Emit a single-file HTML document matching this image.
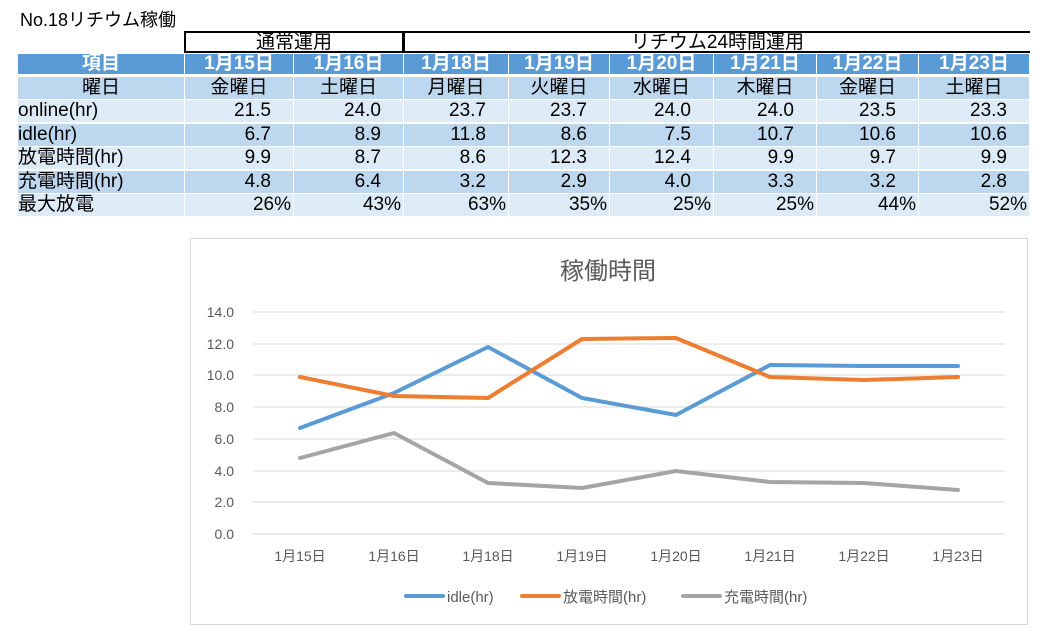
<!DOCTYPE html>
<html><head><meta charset="utf-8"><style>
body{margin:0;width:1050px;height:637px;background:#fff;font-family:"Liberation Sans","Noto Sans CJK JP",sans-serif;position:relative;overflow:hidden}
.a{position:absolute;white-space:nowrap}
.c{position:absolute;box-sizing:border-box;font-size:19px;line-height:22px;height:22px;overflow:hidden}
</style></head><body>
<div class="a" style="left:20px;top:6px;font-size:18px">No.18リチウム稼働</div>
<div class="a" style="left:184px;top:31px;width:220px;height:22px;border:2px solid #000;box-sizing:border-box;text-align:center;font-size:19px;line-height:19px">通常運用</div>
<div class="a" style="left:403px;top:31px;width:627px;height:22px;border-top:2px solid #000;border-left:2px solid #000;border-bottom:2px solid #000;box-sizing:border-box;text-align:center;font-size:19px;line-height:19px">リチウム24時間運用</div>
<div id="t"></div>
<svg class="a" style="left:0;top:0" width="1050" height="637">
<rect x="190.5" y="238.5" width="837" height="386" fill="#fff" stroke="#d9d9d9"/>
<text x="608" y="279" font-size="24" fill="#595959" text-anchor="middle" font-family="Liberation Sans,Noto Sans CJK JP,sans-serif">稼働時間</text>
<g stroke="#d9d9d9" stroke-width="1">
<line x1="253" x2="1005" y1="312" y2="312"/><line x1="253" x2="1005" y1="344" y2="344"/><line x1="253" x2="1005" y1="375" y2="375"/><line x1="253" x2="1005" y1="407" y2="407"/><line x1="253" x2="1005" y1="439" y2="439"/><line x1="253" x2="1005" y1="471" y2="471"/><line x1="253" x2="1005" y1="502" y2="502"/><line x1="253" x2="1005" y1="534" y2="534"/>
</g>
<g font-size="14" fill="#595959" text-anchor="end" font-family="Liberation Sans,sans-serif">
<text x="234" y="317">14.0</text><text x="234" y="349">12.0</text><text x="234" y="380">10.0</text><text x="234" y="412">8.0</text><text x="234" y="444">6.0</text><text x="234" y="476">4.0</text><text x="234" y="507">2.0</text><text x="234" y="539">0.0</text>
</g>
<g font-size="14" fill="#595959" text-anchor="middle" font-family="Liberation Sans,Noto Sans CJK JP,sans-serif">
<text x="300" y="561">1月15日</text><text x="394" y="561">1月16日</text><text x="488" y="561">1月18日</text><text x="582" y="561">1月19日</text><text x="676" y="561">1月20日</text><text x="770" y="561">1月21日</text><text x="864" y="561">1月22日</text><text x="958" y="561">1月23日</text>
</g>
<g fill="none" stroke-width="4" stroke-linejoin="round" stroke-linecap="round">
<polyline stroke="#5b9bd5" points="300,428 394,393 488,347 582,398 676,415 770,365 864,366 958,366"/>
<polyline stroke="#ed7d31" points="300,377 394,396 488,398 582,339 676,338 770,377 864,380 958,377"/>
<polyline stroke="#a5a5a5" points="300,458 394,433 488,483 582,488 676,471 770,482 864,483 958,490"/>
</g>
<g stroke-width="4" stroke-linecap="round"><line x1="406" x2="443" y1="596" y2="596" stroke="#5b9bd5"/><line x1="522" x2="559" y1="596" y2="596" stroke="#ed7d31"/><line x1="683" x2="720" y1="596" y2="596" stroke="#a5a5a5"/></g>
<g font-size="15" fill="#595959" font-family="Liberation Sans,Noto Sans CJK JP,sans-serif"><text x="447" y="602">idle(hr)</text><text x="563" y="602">放電時間(hr)</text><text x="724" y="602">充電時間(hr)</text></g>
</svg>
<script>
var xs=[18,184,293,403,508,609,713,816,918,1029];
var rows=[
["h","項目","1月15日","1月16日","1月18日","1月19日","1月20日","1月21日","1月22日","1月23日"],
["d","曜日","金曜日","土曜日","月曜日","火曜日","水曜日","木曜日","金曜日","土曜日"],
["l","online(hr)","21.5","24.0","23.7","23.7","24.0","24.0","23.5","23.3"],
["d","idle(hr)","6.7","8.9","11.8","8.6","7.5","10.7","10.6","10.6"],
["l","放電時間(hr)","9.9","8.7","8.6","12.3","12.4","9.9","9.7","9.9"],
["d","充電時間(hr)","4.8","6.4","3.2","2.9","4.0","3.3","3.2","2.8"],
["l","最大放電","26%","43%","63%","35%","25%","25%","44%","52%"]];
var ys=[54,77,100,124,147,171,194],h="";
rows.forEach(function(r,i){var bg=r[0]=="h"?"#5b9bd5":r[0]=="d"?"#bdd7ee":"#ddebf7";
for(var j=1;j<r.length;j++){var x=xs[j-1]+(j>1?1:0),w=xs[j]-xs[j-1]-(j>1?1:0);
var al=(i<2)?"center":(j==1?"left":"right");var col=r[0]=="h"?"#fff":"#000";
var pad=(al=="right")?(i==6?"padding-right:2px":"padding-right:22px"):"";
h+='<div class="c" style="left:'+x+'px;top:'+ys[i]+'px;width:'+w+'px;height:'+(i==0?20:22)+'px;line-height:'+(i==0?20:22)+'px;background:'+bg+';color:'+col+';text-align:'+al+';'+pad+(i==0?';font-weight:bold':'')+'">'+r[j]+'</div>';}});
document.getElementById("t").innerHTML=h;
</script>
</body></html>
